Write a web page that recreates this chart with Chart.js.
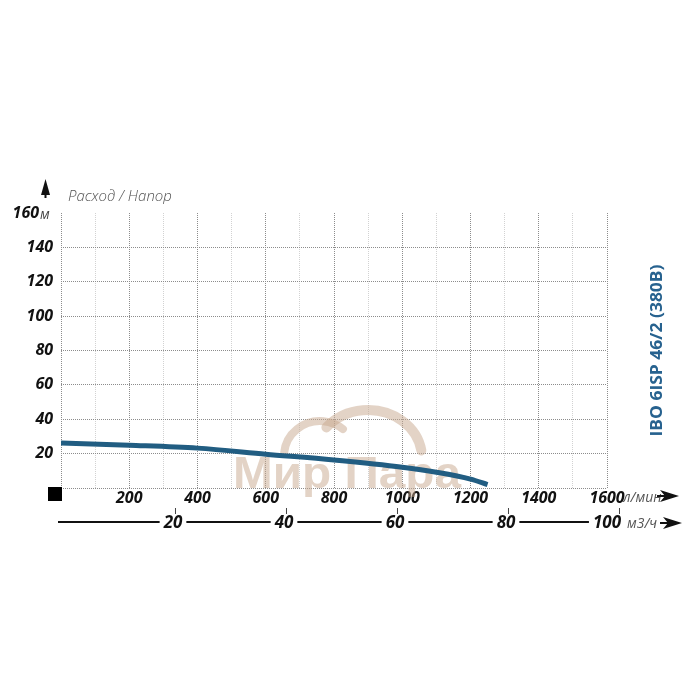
<!DOCTYPE html>
<html>
<head>
<meta charset="utf-8">
<script src="https://cdn.jsdelivr.net/npm/chart.js@4.4.1/dist/chart.umd.min.js"></script>
<style>
  html, body { margin: 0; padding: 0; background: #fff; }
  #wrap { width: 700px; height: 700px; }
</style>
</head>
<body>
<div id="wrap"><canvas id="pump" width="700" height="700"></canvas></div>
<script>
// flow (l/min) and head (m)
const flowLmin = [0, 200, 400, 600, 800, 1000, 1100, 1200, 1250];
const headM = [26.2, 24.9, 23.2, 19.7, 16.3, 12.1, 9.2, 5.2, 2.0];

// secondary axis, m3/h
const flowM3h = [20, 40, 60, 80, 100];

const TITLE = 'IBO 6ISP 46/2 (380B)';
const FONT = "'Open Sans', 'DejaVu Sans', sans-serif";
const CURVE = '#215d82';

const decor = {
  id: 'decor',
  beforeDatasetsDraw(chart) {
    // watermark "Мир Пара"
    const ctx = chart.ctx;
    ctx.save();
    ctx.strokeStyle = 'rgba(200,168,142,0.5)';
    ctx.lineCap = 'round';
    ctx.lineWidth = 8;
    ctx.beginPath();
    ctx.ellipse(320, 456, 36, 35, 0, Math.PI * 1.03, Math.PI * 1.72);
    ctx.stroke();
    ctx.lineWidth = 10;
    ctx.beginPath();
    ctx.ellipse(368, 458, 54, 48, 0, Math.PI * 1.22, Math.PI * 1.95);
    ctx.stroke();
    ctx.fillStyle = 'rgba(200,168,142,0.5)';
    ctx.font = 'bold 44px "Liberation Sans", Arial, sans-serif';
    const w = ctx.measureText('Мир Пара').width;
    ctx.translate(233, 488);
    ctx.scale(228 / w, 1);
    ctx.textBaseline = 'alphabetic';
    ctx.fillText('Мир Пара', 0, 0);
    ctx.restore();
  },
  afterDraw(chart) {
    const ctx = chart.ctx;
    const x = chart.scales.x, y = chart.scales.y, x2 = chart.scales.x2;
    const area = chart.chartArea;
    ctx.save();

    // top-left arrow and caption
    ctx.fillStyle = '#111';
    ctx.beginPath();
    ctx.moveTo(45.5, 179);
    ctx.lineTo(50, 195);
    ctx.lineTo(41, 195);
    ctx.closePath();
    ctx.fill();
    ctx.fillRect(44.5, 192, 2, 6);
    ctx.fillStyle = '#555';
    ctx.font = 'italic 300 15px ' + FONT;
    ctx.textBaseline = 'middle';
    ctx.textAlign = 'left';
    ctx.fillText('Расход / Напор', 68, 197);

    // 160 м
    const y160 = y.getPixelForValue(160);
    ctx.fillStyle = '#111';
    ctx.font = 'italic bold 16px ' + FONT;
    ctx.textAlign = 'right';
    ctx.fillText('160', 39, y160);
    ctx.font = 'italic 14px ' + FONT;
    ctx.fillStyle = '#444';
    ctx.textAlign = 'left';
    ctx.fillText('м', 40, y160 + 2);

    // black square at the origin
    ctx.fillStyle = '#000';
    ctx.fillRect(48, 487, 14, 14);

    // l/min unit and arrow
    const xEnd = x.getPixelForValue(1600);
    ctx.fillStyle = '#555';
    ctx.font = 'italic 14px ' + FONT;
    ctx.fillText('л/мин', xEnd + 16, 498);
    const arrow = (ax, ay) => {
      ctx.fillStyle = '#111';
      ctx.beginPath();
      ctx.moveTo(ax + 20, ay);
      ctx.lineTo(ax + 1, ay - 6);
      ctx.lineTo(ax + 6, ay);
      ctx.lineTo(ax + 1, ay + 6);
      ctx.closePath();
      ctx.fill();
      ctx.fillRect(ax - 2, ay - 1, 9, 2);
    };
    arrow(659, 496);

    // secondary m3/h row
    const rowY = 522;
    ctx.font = 'italic bold 17px ' + FONT;
    ctx.textAlign = 'center';
    ctx.textBaseline = 'middle';
    let lineStart = 58;
    ctx.strokeStyle = '#111';
    flowM3h.forEach((v, i) => {
      const px = x2.getPixelForValue(v);
      const label = String(v);
      const lx = i === flowM3h.length - 1 ? px - 12 : px - 2;
      const half = ctx.measureText(label).width / 2;
      ctx.lineWidth = 2;
      ctx.beginPath();
      ctx.moveTo(lineStart, rowY);
      ctx.lineTo(lx - half - 4, rowY);
      ctx.stroke();
      lineStart = lx + half + 4;
      ctx.fillStyle = '#111';
      ctx.fillText(label, lx, rowY + 1);
      ctx.lineWidth = 1;
      ctx.strokeStyle = '#444';
      ctx.beginPath();
      ctx.moveTo(px + 0.5, 508);
      ctx.lineTo(px + 0.5, 514);
      ctx.stroke();
      ctx.strokeStyle = '#111';
    });
    ctx.fillStyle = '#555';
    ctx.font = 'italic 14px ' + FONT;
    ctx.textAlign = 'left';
    ctx.fillText('м3/ч', lineStart + 2, rowY + 2);
    arrow(662, 523);

    // rotated model name
    ctx.translate(657, (area.top + area.bottom) / 2 + 0);
    ctx.rotate(-Math.PI / 2);
    ctx.fillStyle = '#27628f';
    ctx.font = 'bold 16px ' + FONT;
    const tw = ctx.measureText(TITLE).width;
    ctx.scale(172 / tw, 1);
    ctx.textAlign = 'center';
    ctx.fillText(TITLE, 0, 0);
    ctx.restore();
  }
};

new Chart(document.getElementById('pump').getContext('2d'), {
  type: 'line',
  data: {
    datasets: [{
      data: flowLmin.map((f, i) => ({ x: f, y: headM[i] })),
      borderColor: CURVE,
      borderWidth: 5,
      pointRadius: 0,
      fill: false,
      cubicInterpolationMode: 'monotone',
      borderCapStyle: 'butt'
    }]
  },
  options: {
    responsive: false,
    animation: false,
    layout: { padding: { top: 213, right: 93, bottom: 0, left: 0 } },
    plugins: { legend: { display: false }, tooltip: { enabled: false } },
    scales: {
      x: {
        type: 'linear', min: 0, max: 1600,
        afterFit: s => { s.height = 212; },
        border: { display: false, dash: [1, 1] },
        grid: {
          drawTicks: false,
          color: c => (c.tick && c.tick.value % 200 === 0) ? '#8c8c8c' : '#d2d2d2'
        },
        ticks: {
          stepSize: 100, padding: 1, color: '#111', maxRotation: 0, autoSkip: false,
          font: { family: FONT, size: 16, style: 'italic', weight: 'bold' },
          callback: v => (v > 0 && v % 200 === 0) ? v : ''
        }
      },
      x2: { type: 'linear', display: false, min: -0.54, max: 97.84 },
      y: {
        min: 0, max: 160,
        afterFit: s => { s.width = 61; },
        border: { display: false, dash: [1, 1] },
        grid: {
          drawTicks: false,
          color: c => (c.tick && c.tick.value === 160) ? 'rgba(0,0,0,0)' : '#8c8c8c'
        },
        ticks: {
          stepSize: 20, padding: 8, color: '#111',
          font: { family: FONT, size: 16, style: 'italic', weight: 'bold' },
          callback: v => (v === 0 || v === 160) ? '' : v
        }
      }
    }
  },
  plugins: [decor]
});
</script>
</body>
</html>
